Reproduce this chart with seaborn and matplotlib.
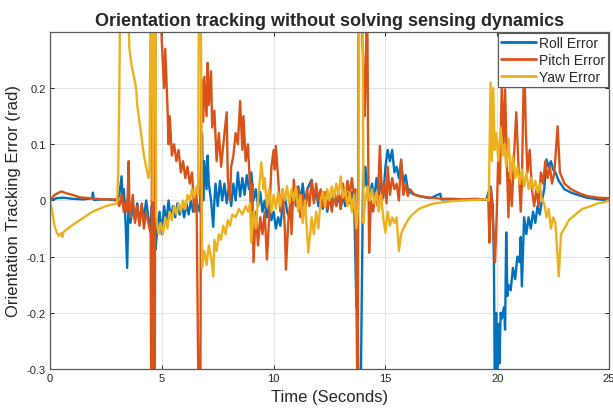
import matplotlib
matplotlib.use("Agg")
import matplotlib.pyplot as plt
import seaborn as sns
import pandas as pd

roll_t = [0.0, 0.3, 0.6, 1.0, 1.5, 1.88, 1.92, 1.96, 2.5, 3.0, 3.1, 3.2, 3.25, 3.3, 3.38, 3.45, 3.5, 3.6, 3.7, 3.8,
          3.9, 4.0, 4.1, 4.2, 4.3, 4.4, 4.5, 4.55, 4.6, 4.65, 4.72, 4.8, 4.9, 5.0, 5.1, 5.2, 5.3, 5.4, 5.5, 5.6,
          5.7, 5.8, 5.9, 6.0, 6.1, 6.2, 6.3, 6.4, 6.5, 6.6, 6.7, 6.8, 6.85, 6.9, 7.0, 7.05, 7.1, 7.2, 7.3, 7.35,
          7.4, 7.5, 7.6, 7.7, 7.8, 7.9, 8.0, 8.1, 8.2, 8.3, 8.4, 8.5, 8.6, 8.7, 8.8, 8.9, 9.0, 9.1, 9.2, 9.3,
          9.4, 9.5, 9.6, 9.7, 9.8, 9.9, 10.0, 10.1, 10.2, 10.3, 10.4, 10.5, 10.6, 10.7, 10.8, 10.9, 11.0, 11.1, 11.2, 11.3,
          11.4, 11.5, 11.7, 11.8, 11.9, 12.0, 12.1, 12.2, 12.3, 12.4, 12.5, 12.6, 12.7, 12.8, 12.9, 13.0, 13.1, 13.2, 13.3, 13.4,
          13.5, 13.6, 13.7, 13.75, 13.8, 13.88, 14.0, 14.05, 14.1, 14.2, 14.3, 14.4, 14.5, 14.6, 14.7, 14.8, 14.9, 15.0, 15.1, 15.2,
          15.3, 15.4, 15.5, 15.6, 15.7, 15.8, 15.9, 16.0, 16.2, 16.5, 17.0, 17.45, 17.5, 18.0, 18.5, 19.0, 19.5, 19.7, 19.8, 19.85,
          19.9, 19.95, 20.0, 20.05, 20.1, 20.15, 20.2, 20.3, 20.35, 20.4, 20.45, 20.5, 20.6, 20.7, 20.8, 20.9, 21.0, 21.05, 21.1, 21.2,
          21.3, 21.4, 21.5, 21.6, 21.7, 21.8, 21.9, 22.0, 22.1, 22.2, 22.3, 22.4, 22.5, 22.6, 22.75, 23.0, 23.3, 23.6, 24.0, 24.5, 25.0]
roll_v = [0.0, 0.004, 0.005, 0.003, 0.002, 0.004, 0.014, 0.001, 0.002, 0.0, 0.01, 0.043, -0.005, 0.02, -0.04, -0.12, -0.02, -0.04, -0.01, -0.035,
          -0.005, -0.04, -0.01, -0.03, 0.0, -0.03, -0.05, -0.01, -0.06, 0.09, -0.087, -0.05, -0.02, -0.06, -0.01, -0.04, 0.0, -0.03, -0.01, -0.03,
          -0.005, -0.025, -0.01, -0.03, -0.005, -0.025, 0.0, -0.02, 0.01, -0.01, -0.02, 0.12, 0.0, 0.07, 0.02, 0.08, 0.03, 0.0, -0.047, 0.0,
          0.03, -0.01, 0.035, 0.0, 0.03, -0.005, 0.025, -0.01, 0.03, 0.0, 0.05, 0.007, 0.04, 0.01, 0.045, 0.02, 0.05, 0.0, 0.02, -0.01,
          0.015, -0.02, 0.0, -0.03, -0.01, -0.035, -0.02, -0.05, -0.03, -0.045, -0.01, 0.01, -0.02, -0.03, 0.0, 0.02, -0.01, 0.025, 0.0, 0.03,
          -0.01, 0.02, 0.037, 0.0, 0.02, -0.01, 0.015, -0.015, 0.01, -0.02, 0.01, -0.01, 0.015, -0.01, 0.01, -0.015, 0.01, -0.01, 0.012, -0.005,
          0.015, 0.0, -0.19, -0.15, -0.4, -0.4, 0.05, 0.025, 0.06, 0.02, 0.005, 0.03, 0.0, 0.04, 0.01, 0.035, 0.005, 0.06, 0.09, 0.07,
          0.09, 0.05, 0.06, 0.04, 0.07, 0.03, 0.045, 0.02, 0.012, 0.008, 0.004, 0.012, 0.002, 0.002, 0.001, 0.002, 0.001, 0.025, -0.01, -0.11,
          -0.4, -0.2, -0.3, -0.22, -0.29, -0.2, -0.21, -0.19, -0.23, -0.057, -0.17, -0.15, -0.16, -0.12, -0.14, -0.1, -0.11, -0.065, -0.153, -0.03,
          -0.06, -0.03, -0.05, -0.02, -0.04, -0.01, -0.025, 0.0, 0.02, 0.073, 0.06, 0.07, 0.055, 0.05, 0.035, 0.02, 0.014, 0.01, 0.005, 0.002, 0.0]

pitch_t = [0.0, 0.2, 0.5, 0.8, 1.0, 1.3, 1.5, 2.0, 2.5, 3.0, 3.1, 3.2, 3.3, 3.4, 3.45, 3.52, 3.55, 3.6, 3.7, 3.8,
           3.9, 4.0, 4.1, 4.2, 4.3, 4.4, 4.5, 4.53, 4.57, 4.63, 4.68, 4.72, 4.9, 5.0, 5.1, 5.15, 5.25, 5.3, 5.35, 5.45,
           5.55, 5.65, 5.75, 5.85, 5.95, 6.05, 6.15, 6.25, 6.35, 6.45, 6.55, 6.65, 6.72, 6.76, 6.85, 6.9, 7.0, 7.05, 7.1, 7.2,
           7.25, 7.35, 7.45, 7.55, 7.65, 7.75, 7.9, 7.95, 8.05, 8.1, 8.2, 8.3, 8.4, 8.5, 8.6, 8.65, 8.75, 8.85, 8.95, 9.0,
           9.05, 9.1, 9.2, 9.3, 9.4, 9.5, 9.6, 9.7, 9.8, 9.9, 10.0, 10.05, 10.1, 10.2, 10.3, 10.4, 10.5, 10.55, 10.65, 10.75,
           10.8, 10.9, 11.0, 11.1, 11.2, 11.3, 11.4, 11.5, 11.6, 11.7, 11.8, 11.9, 12.0, 12.1, 12.2, 12.3, 12.4, 12.5, 12.6, 12.7,
           12.8, 12.9, 13.0, 13.1, 13.2, 13.3, 13.4, 13.5, 13.6, 13.65, 13.72, 13.76, 13.8, 13.85, 14.0, 14.07, 14.12, 14.18, 14.22, 14.27,
           14.35, 14.45, 14.55, 14.65, 14.75, 14.85, 14.95, 15.05, 15.1, 15.2, 15.3, 15.4, 15.5, 15.6, 15.7, 15.8, 15.9, 16.0, 16.1, 16.3,
           16.6, 17.0, 17.5, 18.0, 18.5, 19.0, 19.5, 19.6, 19.65, 19.72, 19.8, 19.9, 19.98, 20.05, 20.12, 20.2, 20.28, 20.35, 20.42, 20.5,
           20.55, 20.65, 20.75, 20.85, 20.95, 21.05, 21.1, 21.2, 21.28, 21.35, 21.45, 21.55, 21.65, 21.75, 21.85, 21.95, 22.05, 22.15, 22.25, 22.35,
           22.45, 22.55, 22.7, 22.8, 23.0, 23.3, 23.6, 24.0, 24.5, 25.0]
pitch_v = [0.0, 0.01, 0.016, 0.012, 0.01, 0.006, 0.005, 0.003, 0.002, 0.002, -0.01, 0.01, -0.02, 0.0, -0.02, 0.07, -0.01, -0.03, 0.01, -0.04,
           -0.01, -0.045, -0.005, -0.05, -0.02, -0.04, -0.06, -0.4, 0.4, -0.4, -0.4, 0.4, 0.4, 0.28, 0.2, 0.27, 0.17, 0.1, 0.15, 0.08,
           0.1, 0.07, 0.09, 0.05, 0.07, 0.04, 0.06, 0.03, 0.05, -0.02, 0.02, -0.4, -0.4, 0.216, 0.14, 0.22, 0.15, 0.245, 0.17, 0.23,
           0.13, 0.16, 0.07, 0.12, 0.06, 0.1, 0.157, 0.04, 0.0, 0.06, 0.08, 0.12, 0.1, 0.177, 0.09, 0.15, 0.07, 0.1, 0.02, -0.05,
           0.03, -0.11, -0.02, -0.08, -0.03, -0.06, -0.02, -0.105, -0.03, 0.06, 0.09, 0.055, 0.097, 0.04, -0.02, 0.02, -0.05, -0.123, -0.04, 0.0,
           -0.06, 0.037, -0.01, 0.02, -0.03, 0.01, -0.02, 0.02, -0.01, 0.035, -0.005, 0.03, 0.0, 0.02, -0.01, 0.015, -0.015, 0.01, -0.02, 0.01,
           -0.01, 0.02, -0.015, 0.03, 0.0, 0.035, 0.01, 0.04, 0.005, 0.02, -0.25, -0.4, 0.4, 0.4, 0.257, 0.15, 0.23, 0.4, 0.12, -0.093,
           0.0, -0.02, 0.01, -0.01, 0.097, 0.0, 0.03, -0.005, 0.06, 0.01, 0.04, 0.02, 0.03, 0.0, 0.073, 0.01, 0.03, 0.008, 0.02, 0.01,
           0.007, 0.005, 0.003, 0.003, 0.002, 0.003, 0.002, 0.0, -0.075, 0.02, -0.03, -0.11, -0.02, 0.085, 0.03, 0.204, 0.1, 0.198, 0.08, -0.03,
           0.05, -0.01, 0.08, 0.157, 0.06, -0.02, 0.03, 0.26, 0.12, 0.05, 0.09, 0.02, -0.01, 0.02, -0.01, 0.05, 0.03, 0.07, 0.04, 0.06,
           0.03, 0.05, 0.132, 0.05, 0.03, 0.02, 0.014, 0.008, 0.005, 0.004]

yaw_t = [0.0, 0.1, 0.2, 0.3, 0.4, 0.5, 0.55, 0.6, 0.8, 1.0, 1.3, 1.6, 1.9, 2.2, 2.5, 2.8, 3.0, 3.05, 3.1, 3.15,
         3.45, 3.55, 3.65, 3.75, 3.85, 3.9, 4.0, 4.1, 4.2, 4.3, 4.4, 4.45, 4.5, 4.55, 4.6, 4.65, 4.7, 4.75, 4.85, 4.95,
         5.05, 5.15, 5.25, 5.35, 5.45, 5.55, 5.65, 5.75, 5.85, 5.95, 6.05, 6.15, 6.25, 6.35, 6.45, 6.55, 6.62, 6.66, 6.74, 6.8,
         6.9, 7.0, 7.1, 7.2, 7.3, 7.35, 7.45, 7.55, 7.65, 7.75, 7.85, 7.95, 8.05, 8.15, 8.3, 8.45, 8.6, 8.75, 8.85, 8.95,
         9.0, 9.1, 9.2, 9.3, 9.45, 9.55, 9.6, 9.7, 9.8, 9.9, 10.0, 10.1, 10.2, 10.3, 10.4, 10.5, 10.6, 10.7, 10.8, 10.9,
         11.0, 11.1, 11.2, 11.3, 11.4, 11.55, 11.7, 11.8, 11.9, 12.0, 12.1, 12.2, 12.3, 12.4, 12.5, 12.6, 12.7, 12.8, 12.9, 13.0,
         13.1, 13.2, 13.3, 13.4, 13.5, 13.6, 13.7, 13.8, 13.83, 13.97, 14.02, 14.1, 14.2, 14.3, 14.4, 14.5, 14.6, 14.7, 14.8, 14.9,
         15.0, 15.1, 15.2, 15.3, 15.4, 15.5, 15.6, 15.7, 15.8, 16.0, 16.2, 16.5, 16.8, 17.2, 17.6, 18.0, 18.5, 19.0, 19.5, 19.62,
         19.7, 19.76, 19.82, 19.88, 19.95, 20.05, 20.15, 20.25, 20.32, 20.4, 20.5, 20.6, 20.7, 20.8, 20.9, 21.0, 21.1, 21.2, 21.3, 21.4,
         21.5, 21.6, 21.7, 21.8, 21.9, 22.0, 22.1, 22.2, 22.3, 22.4, 22.5, 22.6, 22.75, 22.85, 23.0, 23.2, 23.5, 23.8, 24.2, 24.5,
         24.8, 25.0]
yaw_v = [0.0, -0.02, -0.045, -0.057, -0.063, -0.058, -0.065, -0.056, -0.05, -0.044, -0.036, -0.028, -0.02, -0.015, -0.01, -0.007, -0.005, 0.05, 0.2, 0.4,
         0.4, 0.27, 0.24, 0.22, 0.2, 0.17, 0.14, 0.11, 0.08, 0.06, 0.04, 0.05, 0.4, 0.4, 0.0, 0.4, 0.4, -0.03, -0.06, -0.04,
         -0.06, -0.03, -0.05, -0.02, -0.035, -0.01, -0.025, -0.005, -0.02, 0.0, -0.015, 0.01, 0.0, 0.02, 0.005, 0.025, 0.01, 0.4, 0.4, -0.12,
         -0.09, -0.115, -0.08, -0.1, -0.135, -0.07, -0.09, -0.06, -0.07, -0.045, -0.06, -0.035, -0.045, -0.025, -0.03, -0.015, -0.025, -0.01, -0.02, -0.005,
         -0.075, -0.02, -0.05, 0.0, 0.068, 0.02, 0.04, -0.01, 0.02, -0.02, 0.01, -0.015, 0.015, -0.01, 0.02, 0.0, 0.025, -0.005, 0.02, 0.0,
         0.025, -0.02, 0.01, -0.04, 0.0, -0.093, -0.03, -0.06, -0.02, -0.05, 0.0, 0.015, -0.01, 0.02, 0.0, 0.025, 0.005, 0.03, 0.01, 0.043,
         0.005, 0.02, -0.01, 0.015, -0.02, 0.01, -0.05, 0.0, 0.4, 0.4, -0.04, 0.0, 0.025, 0.0, 0.02, -0.005, 0.015, -0.02, 0.01, -0.03,
         -0.057, -0.02, -0.045, -0.03, -0.04, -0.03, -0.09, -0.06, -0.05, -0.035, -0.025, -0.015, -0.01, -0.005, -0.003, -0.001, 0.0, 0.001, 0.002, 0.0,
         0.21, 0.07, 0.2, 0.09, 0.12, 0.07, 0.13, 0.08, 0.1, 0.06, 0.11, 0.04, 0.08, 0.04, 0.06, 0.03, 0.055, 0.025, 0.05, 0.02,
         0.04, 0.02, 0.035, 0.015, 0.03, 0.0, -0.005, -0.03, -0.015, -0.05, -0.03, -0.04, -0.135, -0.06, -0.05, -0.035, -0.025, -0.015, -0.01, -0.005,
         -0.003, 0.0]

series_names = ["Roll Error", "Pitch Error", "Yaw Error"]
series_colors = ["#0072BD", "#D95319", "#EDB120"]
x_ticks = [0, 5, 10, 15, 20, 25]
y_ticks = [-0.3, -0.2, -0.1, 0, 0.1, 0.2]
y_tick_labels = ["-0.3", "-0.2", "-0.1", "0", "0.1", "0.2"]

df = pd.concat([
    pd.DataFrame({"t": roll_t, "v": roll_v, "series": series_names[0]}),
    pd.DataFrame({"t": pitch_t, "v": pitch_v, "series": series_names[1]}),
    pd.DataFrame({"t": yaw_t, "v": yaw_v, "series": series_names[2]}),
], ignore_index=True)

sns.set_style("ticks")
plt.rcParams["font.family"] = ["Liberation Sans", "DejaVu Sans"]

fig = plt.figure(figsize=(6.13, 4.10), dpi=100)
ax = fig.add_axes([0.0816, 0.0976, 0.912, 0.822])

sns.lineplot(data=df, x="t", y="v", hue="series", palette=series_colors, hue_order=series_names,
             sort=False, estimator=None, linewidth=1.7, ax=ax)

ax.set_xlim(0, 25)
ax.set_ylim(-0.3, 0.3)
ax.set_xticks(x_ticks)
ax.set_xticklabels([str(x) for x in x_ticks])
ax.set_yticks(y_ticks)
ax.set_yticklabels(y_tick_labels)
ax.grid(True, color="#e3e3e3", linewidth=0.8)
ax.set_axisbelow(True)
for s in ax.spines.values():
    s.set_visible(True)
    s.set_color("#5a5a5a")
    s.set_linewidth(0.9)
ax.tick_params(direction="in", length=3, width=0.7, color="#262626", labelsize=8, labelcolor="#262626",
               top=True, right=True, pad=3)
ax.set_xlabel("Time (Seconds)", fontsize=12, color="#262626", labelpad=4)
ax.set_ylabel("Orientation Tracking Error (rad)", fontsize=12, color="#262626", labelpad=4)
ax.set_title("Orientation tracking without solving sensing dynamics", fontsize=13, fontweight="bold",
             color="#262626", pad=5)

leg = ax.legend(loc="upper right", fontsize=10, frameon=True, fancybox=False, framealpha=1,
                edgecolor="#5a5a5a", borderpad=0.25, labelspacing=0.2, handlelength=2.5,
                handletextpad=0.2, borderaxespad=0.05)
leg.get_frame().set_linewidth(0.8)
for line in leg.get_lines():
    line.set_linewidth(2)

fig.savefig("out.png", dpi=100)
